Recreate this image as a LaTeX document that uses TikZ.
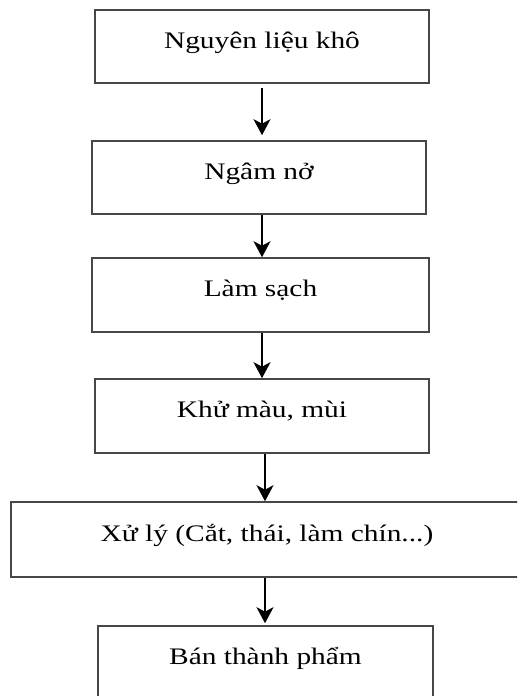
\documentclass[tikz,border=0pt]{standalone}
\usepackage{fontspec}
\setmainfont{Liberation Serif}[FakeStretch=1.24]
\usetikzlibrary{arrows.meta}
\begin{document}
\begin{tikzpicture}[x=1pt,y=-1pt,
  box/.style={draw=black!72, line width=1.6pt, rectangle, inner sep=0pt,
    text height=16pt, text depth=13pt, font=\fontsize{23.7}{28}\selectfont},
  arr/.style={draw=black, line width=2pt, -{Stealth[length=16pt,width=17pt,inset=4.5pt]}}]
\clip (0,0) rectangle (517,696);
\useasboundingbox (0,0) rectangle (517,696);
\node[box, minimum width=334pt, minimum height=73pt] (b1) at (262,46.5) {Nguyên liệu khô};
\node[box, minimum width=334pt, minimum height=73pt] (b2) at (259,177.5) {Ngâm nở};
\node[box, minimum width=337pt, minimum height=74pt] (b3) at (260.5,295) {Làm sạch};
\node[box, minimum width=334pt, minimum height=74pt] (b4) at (262,416) {Khử màu, mùi};
\node[box, minimum width=512pt, minimum height=75pt] (b5) at (267,539.5) {Xử lý (Cắt, thái, làm chín...)};
\node[box, minimum width=335pt, minimum height=74pt] (b6) at (265.5,663) {Bán thành phẩm};
\coordinate (xa) at (262,0);
\coordinate (xb) at (265,0);
\draw[arr, shorten <=4pt, shorten >=5pt] (b1.south -| xa) -- (b2.north -| xa);
\draw[arr] (b2.south -| xa) -- (b3.north -| xa);
\draw[arr] (b3.south -| xa) -- (b4.north -| xa);
\draw[arr] (b4.south -| xb) -- (b5.north -| xb);
\draw[arr, shorten >=2pt] (b5.south -| xb) -- (b6.north -| xb);
\end{tikzpicture}
\end{document}
